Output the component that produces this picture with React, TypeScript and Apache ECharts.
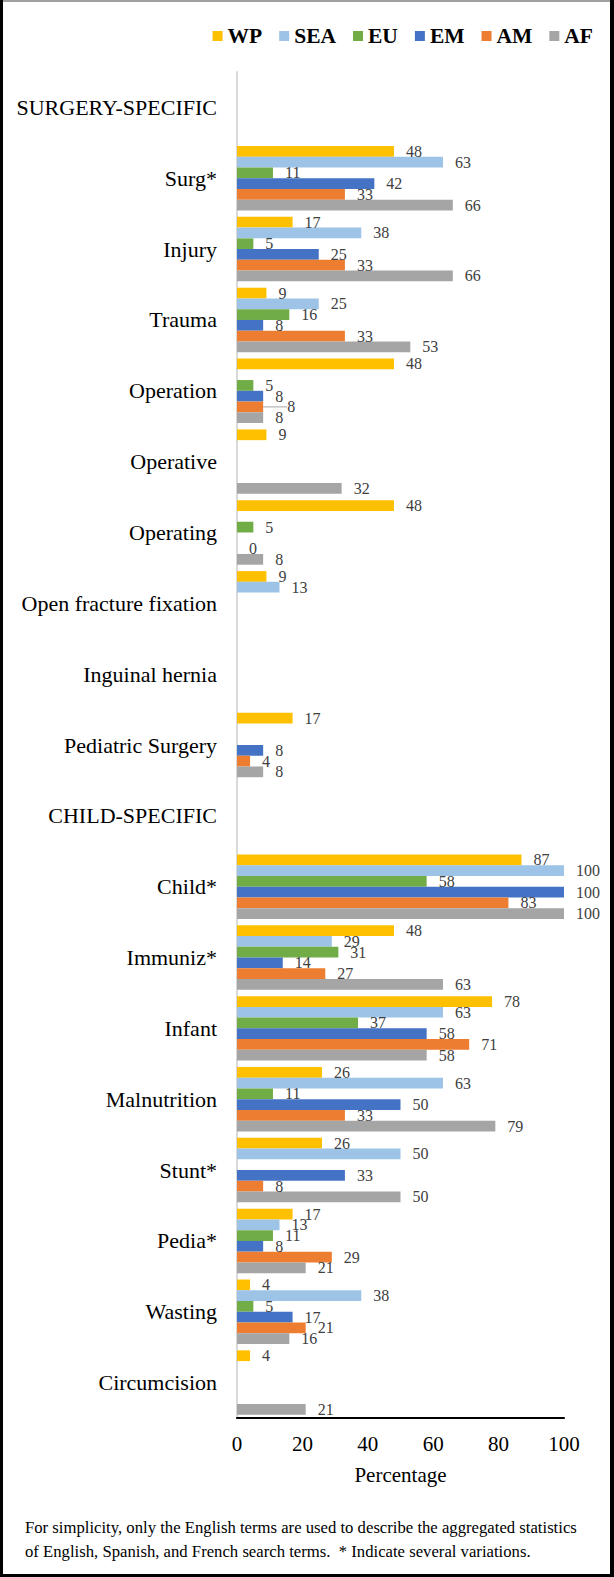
import React, { useEffect, useRef } from "react";
import * as echarts from "echarts";

const categories = [
  "SURGERY-SPECIFIC", "Surg*", "Injury", "Trauma", "Operation", "Operative", "Operating",
  "Open fracture fixation", "Inguinal hernia", "Pediatric Surgery", "CHILD-SPECIFIC",
  "Child*", "Immuniz*", "Infant", "Malnutrition", "Stunt*", "Pedia*", "Wasting", "Circumcision",
];
const seriesNames = ["WP", "SEA", "EU", "EM", "AM", "AF"];
const seriesColors = ["#FFC000", "#9DC3E6", "#70AD47", "#4472C4", "#ED7D31", "#A5A5A5"];

const WP = [null, 48, 17, 9, 48, 9, 48, 9, null, 17, null, 87, 48, 78, 26, 26, 17, 4, 4];
const SEA = [null, 63, 38, 25, null, null, null, 13, null, null, null, 100, 29, 63, 63, 50, 13, 38, null];
const EU = [null, 11, 5, 16, 5, null, 5, null, null, null, null, 58, 31, 37, 11, null, 11, 5, null];
const EM = [null, 42, 25, 8, 8, null, null, null, null, 8, null, 100, 14, 58, 50, 33, 8, 17, null];
const AM = [null, 33, 33, 33, 8, null, 0, null, null, 4, null, 83, 27, 71, 33, 8, 29, 21, null];
const AF = [null, 66, 66, 53, 8, 32, 8, null, null, 8, null, 100, 63, 58, 79, 50, 21, 16, 21];
const seriesData = [WP, SEA, EU, EM, AM, AF];

// the one data label that the reference draws with a leader line (AM, "Operation")
const leaderSeries = "AM";
const leaderIndex = 4;

const xTicks = { min: 0, max: 100, interval: 20 };
const xName = "Percentage";
const footnote1 = "For simplicity, only the English terms are used to describe the aggregated statistics";
const footnote2 = "of English, Spanish, and French search terms.  * Indicate several variations.";

const FONT = "'Liberation Serif', 'Times New Roman', serif";

export default function App() {
  const ref = useRef<HTMLDivElement>(null);
  useEffect(() => {
    if (!ref.current) return;
    const chart = echarts.init(ref.current, null, { renderer: "svg" });
    const series = seriesNames.map((name, i) => {
      const isLeader = name === leaderSeries;
      const data = seriesData[i].map((v, j) =>
        isLeader && j === leaderIndex
          ? { value: v, labelLine: { show: true, lineStyle: { color: "#A5A5A5", width: 1 } } }
          : v
      );
      return {
        name,
        type: "bar",
        data,
        barGap: "0%",
        barCategoryGap: "9%",
        itemStyle: { color: seriesColors[i] },
        label: {
          show: true,
          position: "right",
          distance: 12,
          color: "#404040",
          fontFamily: FONT,
          fontSize: 16,
        },
        labelLine: { show: false },
        labelLayout: isLeader
          ? (p: any) => (p.dataIndex === leaderIndex ? { dx: 12 } : {})
          : undefined,
      };
    });
    chart.setOption({
      animation: false,
      backgroundColor: "#fff",
      legend: {
        data: seriesNames,
        right: 21,
        top: 25,
        padding: 0,
        icon: "rect",
        itemWidth: 10,
        itemHeight: 10,
        itemGap: 17,
        textStyle: { fontFamily: FONT, fontWeight: "bold", fontSize: 21.5, color: "#000" },
      },
      grid: { left: 237, right: 50, top: 72, bottom: 159 },
      xAxis: {
        type: "value",
        min: xTicks.min,
        max: xTicks.max,
        interval: xTicks.interval,
        name: xName,
        nameLocation: "middle",
        nameGap: 46,
        nameTextStyle: { fontFamily: FONT, fontSize: 21, color: "#000" },
        axisLine: { show: true, lineStyle: { color: "#000", width: 2 } },
        axisTick: { show: false },
        splitLine: { show: false },
        axisLabel: { fontFamily: FONT, fontSize: 21, color: "#000", margin: 15 },
      },
      yAxis: {
        type: "category",
        data: categories,
        inverse: true,
        axisLine: { show: true, lineStyle: { color: "#D9D9D9", width: 2 } },
        axisTick: { show: false },
        axisLabel: { fontFamily: FONT, fontSize: 22, color: "#000", margin: 20, interval: 0 },
      },
      graphic: [
        { type: "rect", shape: { x: 0, y: 0, width: 614, height: 2 }, style: { fill: "#A0A0A0" } },
        { type: "rect", shape: { x: 0, y: 0, width: 3, height: 1577 }, style: { fill: "#000" } },
        { type: "rect", shape: { x: 610, y: 0, width: 4, height: 1577 }, style: { fill: "#000" } },
        { type: "rect", shape: { x: 0, y: 1574, width: 614, height: 3 }, style: { fill: "#000" } },
        {
          type: "text",
          left: 25,
          top: 1519,
          style: { text: footnote1, fontFamily: FONT, fontSize: 16.7, fill: "#000" },
        },
        {
          type: "text",
          left: 25,
          top: 1543,
          style: { text: footnote2, fontFamily: FONT, fontSize: 16.7, fill: "#000" },
        },
      ],
      series,
    });
    return () => chart.dispose();
  }, []);
  return (
    <div
      ref={ref}
      style={{ position: "absolute", left: 0, top: 0, width: 614, height: 1577 }}
    />
  );
}
